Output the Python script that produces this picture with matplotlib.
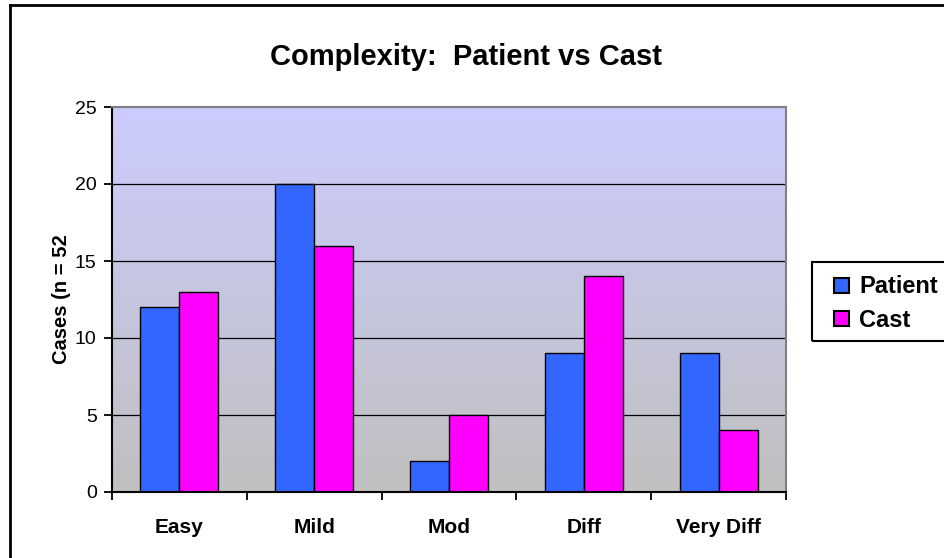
import numpy as np
import matplotlib
matplotlib.use("Agg")
import matplotlib.pyplot as plt
from matplotlib.patches import Rectangle
from matplotlib.lines import Line2D

categories = ["Easy", "Mild", "Mod", "Diff", "Very Diff"]
patient = [12, 20, 2, 9, 9]
cast = [13, 16, 5, 14, 4]
series_names = ["Patient", "Cast"]
yticks = [0, 5, 10, 15, 20, 25]

plt.rcParams['font.family'] = ['Liberation Sans', 'DejaVu Sans']

W, H = 945, 558
fig = plt.figure(figsize=(W / 100, H / 100), dpi=100)
fig.patch.set_facecolor('white')

L, R, T, B = 112, 786, 107, 492
ax = fig.add_axes([L / W, 1 - B / H, (R - L) / W, (B - T) / H])

x = np.arange(len(categories))
w = 0.29
ax.set_xlim(-0.5, len(categories) - 0.5)
ax.set_ylim(0, 25)

# gradient background
grad = np.linspace(0, 1, 256).reshape(-1, 1)
top = np.array([204, 204, 255]) / 255
bot = np.array([192, 192, 192]) / 255
img = bot[None, None, :] * (1 - grad[:, :, None]) + top[None, None, :] * grad[:, :, None]
ax.imshow(img, extent=[-0.5, len(categories) - 0.5, 0, 25], origin='lower',
          aspect='auto', zorder=0, interpolation='bilinear')

for yv in yticks[1:-1]:
    ax.axhline(yv, color='black', lw=0.9, zorder=1)

b1 = ax.bar(x - w / 2, patient, w, color='#3366FF', edgecolor='black', lw=1.0, zorder=2, label=series_names[0])
b2 = ax.bar(x + w / 2, cast, w, color='#FF00FF', edgecolor='black', lw=1.0, zorder=2, label=series_names[1])

for s in ['top', 'right']:
    ax.spines[s].set_color('#808080')
    ax.spines[s].set_linewidth(1.5)
for s in ['left', 'bottom']:
    ax.spines[s].set_color('black')
    ax.spines[s].set_linewidth(1.5)

ax.set_yticks(yticks)
ax.set_yticklabels([str(v) for v in yticks], fontsize=14)
ax.tick_params(axis='y', direction='out', length=6, width=1.3, pad=5)

ax.set_xticks(np.arange(len(categories) + 1) - 0.5)
ax.set_xticklabels([])
ax.tick_params(axis='x', direction='out', length=6, width=1.3)
for i, c in enumerate(categories):
    ax.text(i, -2.3, c, ha='center', va='center', fontsize=15, fontweight='bold')

ax.set_ylabel("Cases (n = 52", fontsize=14.5, fontweight='bold', labelpad=3)

fig.text(466 / W, 1 - 57 / H, "Complexity:  Patient vs Cast", ha='center', va='center',
         fontsize=21, fontweight='bold')

# figure border (left and top visible)
fig.add_artist(Line2D([10 / W, 10 / W], [0, 1 - 5 / H], color='black', lw=2, transform=fig.transFigure))
fig.add_artist(Line2D([10 / W, 1], [1 - 5 / H, 1 - 5 / H], color='black', lw=2, transform=fig.transFigure))

# legend frame
fig.add_artist(Rectangle((812 / W, 1 - 341 / H), (960 - 812) / W, (341 - 262) / H,
                         transform=fig.transFigure, fill=False, edgecolor='black', lw=1.5))
leg = fig.legend(handles=[b1, b2], labels=series_names, loc='upper left',
                 bbox_to_anchor=(825 / W, 1 - 266 / H), frameon=False,
                 prop={'weight': 'bold', 'size': 17}, handlelength=0.6, handleheight=0.6,
                 handletextpad=0.45, labelspacing=0.45, borderaxespad=0)
for h in leg.legend_handles:
    h.set_linewidth(1.5)

fig.savefig("out.png", dpi=100)
